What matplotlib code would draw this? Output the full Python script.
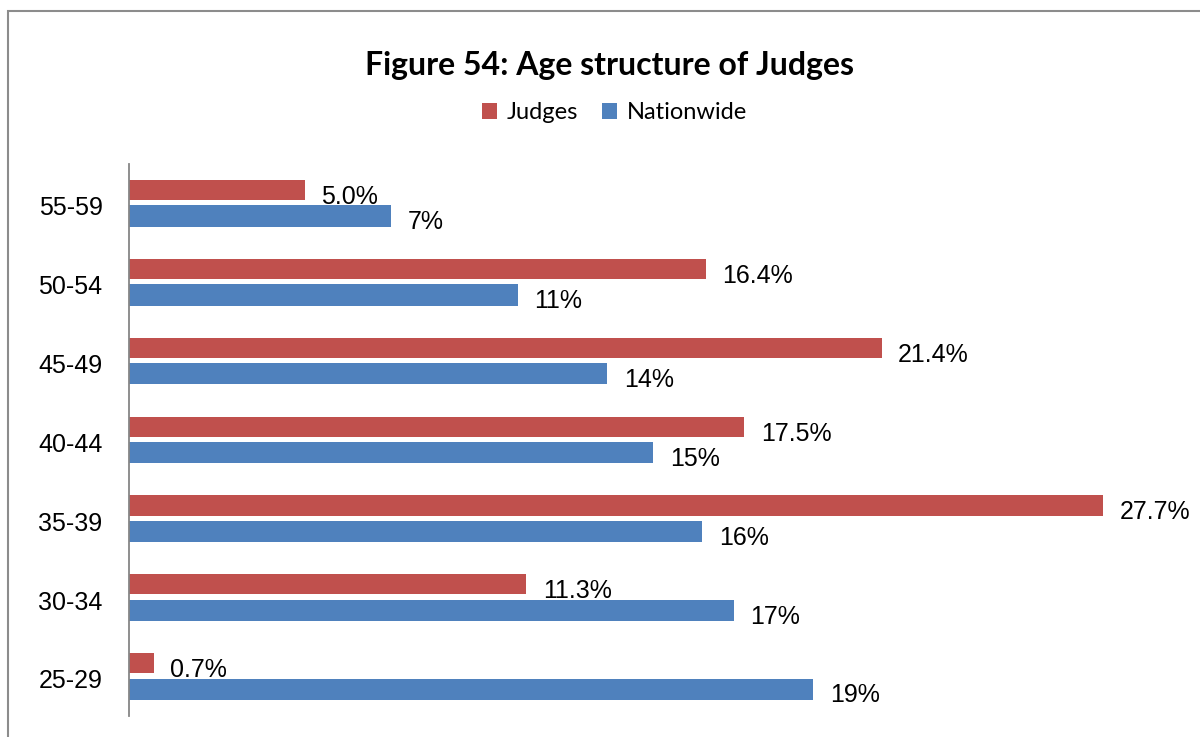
import numpy as np
import matplotlib.pyplot as plt
from matplotlib.patches import Rectangle

# age groups, bottom to top
ages = ["25-29", "30-34", "35-39", "40-44", "45-49", "50-54", "55-59"]
judges = [0.7, 11.3, 27.7, 17.5, 21.4, 16.4, 5.0]
nationwide = [19.45, 17.2, 16.3, 14.9, 13.6, 11.05, 7.45]

red = "#C0504D"
blue = "#4F81BD"

fig = plt.figure(figsize=(12, 7.37), dpi=100)
ax = fig.add_axes([129 / 1200, 1 - 716 / 737, (1184 - 129) / 1200, (716 - 164) / 737])

# outer chart frame, runs off the right and bottom edges
fig.patches.append(Rectangle((8 / 1200, -0.05), 1.1, 1 - 11 / 737 + 0.05,
                             transform=fig.transFigure, fill=False,
                             edgecolor="#8c8c8c", linewidth=1.5))

y = np.arange(len(ages))
bj = ax.barh(y + 0.17, judges, height=0.255, color=red, label="Judges")
bn = ax.barh(y - 0.16, nationwide, height=0.27, color=blue, label="Nationwide")

for b, v in zip(bj, judges):
    ax.annotate("%.1f%%" % v, (b.get_width(), b.get_y() + b.get_height() / 2),
                xytext=(12, -5), textcoords="offset points", va="center",
                fontsize=18, family="Liberation Sans")
for b, v in zip(bn, nationwide):
    ax.annotate("%.0f%%" % v, (b.get_width(), b.get_y() + b.get_height() / 2),
                xytext=(12, -4.5), textcoords="offset points", va="center",
                fontsize=18, family="Liberation Sans")

ax.set_xlim(0, 30)
ax.set_ylim(-0.5, len(ages) - 0.5)
ax.set_yticks(y - 0.03)
ax.set_yticklabels(ages, fontsize=18, family="Liberation Sans")
ax.tick_params(axis="y", length=0, pad=19)
ax.set_xticks([])
for s in ["top", "right", "bottom"]:
    ax.spines[s].set_visible(False)
ax.spines["left"].set_color("#868686")
ax.spines["left"].set_linewidth(1.3)

fig.text(0.508, 0.911, "Figure 54: Age structure of Judges", ha="center", va="center",
         fontsize=23, fontweight="bold", family="Lato")
fig.legend(handles=[bj, bn], loc="center", bbox_to_anchor=(0.512, 0.847), ncol=2,
           frameon=False, prop={"family": "Lato", "size": 17},
           handlelength=0.65, handleheight=0.65, handletextpad=0.4, columnspacing=1.0)

fig.savefig("out.png", dpi=100)
